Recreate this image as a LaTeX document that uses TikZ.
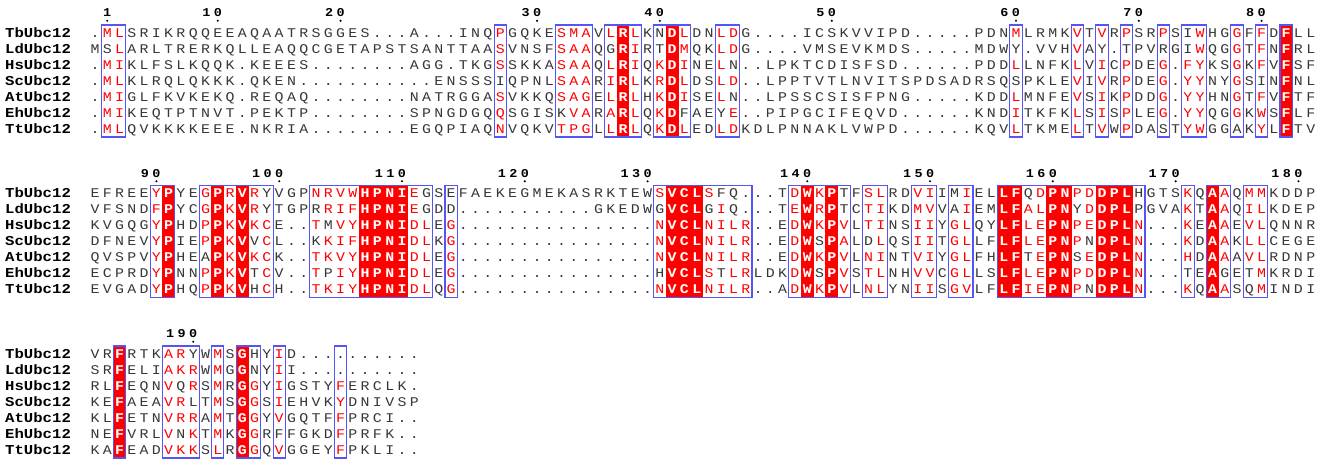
\documentclass[tikz,border=0pt]{standalone}
\usepackage{fontspec}
\newfontfamily\seqfont[FakeStretch=1.12]{Liberation Mono}
\newfontfamily\namefont[FakeStretch=1.15]{Liberation Mono}
\definecolor{boxblue}{RGB}{85,85,245}
\definecolor{resred}{RGB}{255,0,0}
\definecolor{resgray}{RGB}{55,55,55}
\tikzset{
  res/.style={inner sep=0pt, anchor=base, font=\seqfont\fontsize{13.3}{13.3}\selectfont},
  resblack/.style={res, text=resgray},
  resred/.style={res, text=resred},
  resfill/.style={res, text=white, font=\seqfont\bfseries\fontsize{13.3}{13.3}\selectfont},
  seqname/.style={inner sep=0pt, anchor=base west, font=\namefont\bfseries\fontsize{13.6}{13.6}\selectfont},
  numstyle/.style={inner sep=0pt, anchor=base, font=\seqfont\bfseries\fontsize{12}{12}\selectfont},
  boxline/.style={draw=boxblue, line width=1.1pt},
  fillcol/.style={fill=resred},
}
\makeatletter
\newcount\sq@col
\newcommand\seqrow[3]{% #1 block id, #2 baseline y, #3 residues
  \def\sq@blk{#1}\def\sq@y{#2}\global\sq@col=0
  \sq@loop#3\relax}
\def\sq@loop#1{\ifx#1\relax\else\sq@put#1\global\advance\sq@col by 1 \expandafter\sq@loop\fi}
\def\sq@put#1{%
  \pgfmathsetmacro\sq@x{95+12.28*\the\sq@col}%
  \ifcsname FILL\sq@blk-\the\sq@col\endcsname
    \node[resfill] at (\sq@x,\sq@y) {\uppercase{#1}};%
  \else
    \ifnum\lccode`#1=`#1\relax
      \node[resred] at (\sq@x,\sq@y) {\uppercase{#1}};%
    \else
      \node[resblack] at (\sq@x,\sq@y) {#1};%
    \fi
  \fi}
\newcommand\markfill[2]{\expandafter\gdef\csname FILL#1-#2\endcsname{}}
\makeatother
\newcommand\fillcols[3]{% #1 block, #2 y0, #3 list
  \foreach \c in {#3} {
    \markfill{#1}{\c}
    \fill[fillcol] ({95+12.28*\c-6.4},{#2-8}) rectangle ({95+12.28*\c+6.4},{#2+104});
  }}
\newcommand\boxcols[2]{% #1 y0, #2 list a/b
  \foreach \a/\b in {#2} {
    \draw[boxline] ({95+12.28*\a-6.14},{#1-8}) rectangle ({95+12.28*\b+6.14},{#1+104});
  }}
\newcommand\numlab[4]{% #1 y0, #2 col, #3 digits, #4 count
  \foreach \d [count=\i] in {#3} {
    \node[numstyle] at ({95+12.28*#2-11.5*(#4-\i)},{#1-16.3}) {\d};
  }
  \fill[black] ({95+12.28*#2},{#1-12.2}) circle (1.15);
}
\newcommand\names[2]{% #1 y0, #2 prefix
  \node[seqname] (#2Tb) at (5,{#1+4.5}) {TbUbc12};
  \node[seqname] (#2Ld) at (5,{#1+20.5}) {LdUbc12};
  \node[seqname] (#2Hs) at (5,{#1+36.5}) {HsUbc12};
  \node[seqname] (#2Sc) at (5,{#1+52.5}) {ScUbc12};
  \node[seqname] (#2At) at (5,{#1+68.5}) {AtUbc12};
  \node[seqname] (#2Eh) at (5,{#1+84.5}) {EhUbc12};
  \node[seqname] (#2Tt) at (5,{#1+100.5}) {TtUbc12};
}
\begin{document}
\begin{tikzpicture}[x=1pt,y=-1pt]
\useasboundingbox (0,0) rectangle (1326,462);
\fill[white] (0,0) rectangle (1326,462);
% ---------------- block 1 ----------------
\def\yA{33}
\fillcols{A}{\yA}{43,47,97}
\boxcols{\yA}{1/2,33/33,38/40,42/44,46/48,51/52,75/75,80/80,82/82,84/84,87/87,89/90,93/93,95/95,97/97}
\names{\yA}{a}
\numlab{\yA}{1}{1}{1}
\numlab{\yA}{10}{1,0}{2}
\numlab{\yA}{20}{2,0}{2}
\numlab{\yA}{36}{3,0}{2}
\numlab{\yA}{46}{4,0}{2}
\numlab{\yA}{60}{5,0}{2}
\numlab{\yA}{75}{6,0}{2}
\numlab{\yA}{85}{7,0}{2}
\numlab{\yA}{95}{8,0}{2}
\seqrow{A}{37.5}{.mlSRIKRQQEEAQAATRSGGES...A...INQpGQKEsmaVlRlKNDlDNldG....ICSKVVIPD.....PDNmLRMKvTvRpSRpSIwHGgFfDFLL}
\seqrow{A}{53.5}{MSlARLTRERKQLLEAQQCGETAPSTSANTTAAsVNSFsaaQGRiRTDmQKldG....VMSEVKMDS.....MDWY.VVHvAY.TPVRGIwQGgTfNFRL}
\seqrow{A}{69.5}{.miKLFSLKQQK.KEEES........AGG.TKGsSKKAsaaQlRiQkDiNElN..LPKTCDISFSD......PDDlLNFKlViCpDEg.fyKSgKfVFSF}
\seqrow{A}{85.5}{.mlKLRQLQKKK.QKEN...........ENSSSIQPNLsaaRiRlKrDlDSld..LPPTVTLNVITSPDSADRSQSPKLEvIvRpDEg.yyNYgSINFNL}
\seqrow{A}{101.5}{.miGLFKVKEKQ.REQAQ........NATRGGAsVKKQsagElRlHkDiSElN..LPSSCSISFPNG.....KDDlMNFEvSiKpDDg.yyHNgTfVFTF}
\seqrow{A}{117.5}{.miKEQTPTNVT.PEKTP........SPNGDGQqSGISKvaRaRlQkDFAEYe..PIPGCIFEQVD......KNDiTKFKlSiSpLEg.yyQGgKwSFLF}
\seqrow{A}{133.5}{.mlQVKKKKEEE.NKRIA........EGQPIAQnVQKVtpgLlRlQkDlEDldKDLPNNAKLVWPD......KQVlTKMElTvWpDASTywGGAKyLFTV}
% ---------------- block 2 ----------------
\def\yB{193.5}
\fillcols{B}{\yB}{6,10,12,22,23,24,25,47,48,49,58,60,74,75,78,79,82,83,84,91}
\boxcols{\yB}{5/6,9/14,18/27,29/29,46/53,57/61,63/64,67/68,70/71,74/85,89/89,91/92,94/95}
\names{\yB}{b}
\numlab{\yB}{5}{9,0}{2}
\numlab{\yB}{15}{1,0,0}{3}
\numlab{\yB}{25}{1,1,0}{3}
\numlab{\yB}{35}{1,2,0}{3}
\numlab{\yB}{45}{1,3,0}{3}
\numlab{\yB}{58}{1,4,0}{3}
\numlab{\yB}{68}{1,5,0}{3}
\numlab{\yB}{78}{1,6,0}{3}
\numlab{\yB}{88}{1,7,0}{3}
\numlab{\yB}{98}{1,8,0}{3}
\seqrow{B}{198}{EFREEyPYEgPrVrYVGPnrvwHPNIeGSEFAEKEGMEKASRKTEWsVCLsFQ...TdWkPTFslRDviIMiELLFQdPNpdDPLHGTSkQAaQmmKDDP}
\seqrow{B}{214}{VFSNDfPYCgPkVrYTGPRrifHPNIeGDD...........GKEDWGVCLGiQ...TeWrPTCtiKDmvVAiEMLFalPNYdDPLPGVAkTAaQilKDEP}
\seqrow{B}{230}{KVGQGyPHDpPkVkcE..tMvyHPNIdlEg................nVCLnilr..EdWkPvLtiNSiiYglQYLFlePNpeDPLn...kEAaEvlQNNR}
\seqrow{B}{246}{DFNEVyPIEpPkVVcL..KkifHPNIdlKg................nVCLnilr..EdWSPaLDlQSiiTglLFLFlePNpNDPLn...kDAaKllCEGE}
\seqrow{B}{262}{QVSPVyPHEAPkVkcK..tkvyHPNIdlEg................nVCLnilr..EdWkPvLniNTviYglFHLFTePNSeDPLn...hDAaAvlRDNP}
\seqrow{B}{278}{ECPRDyPNNpPkVTcV..tPiyHPNIdlEg................HVCLsTlrLDKdWSPvStlNHvvCglLSLFlePNpdDPLn...TEAGETmKRDI}
\seqrow{B}{294}{EVGADyPHQpPkVHcH..tkiyHPNIdlQg................nVCLnilr..AdWkPvLnlYNiiSgvLFLFiePNpNDPLn...kQAaSQmINDI}
% ---------------- block 3 ----------------
\def\yC{354}
\fillcols{C}{\yC}{2,12}
\boxcols{\yC}{2/2,6/8,10/10,12/13,15/15,20/20}
\names{\yC}{c}
\numlab{\yC}{8}{1,9,0}{3}
\seqrow{C}{358.5}{VRFRTKarYWmSGHYiD..........}
\seqrow{C}{374.5}{SRFELIakrWmGGNYiI..........}
\seqrow{C}{390.5}{RLFEQNvQrSmRGgYiGSTYfERCLK.}
\seqrow{C}{406.5}{KEFAEAvrLTmSGgSiEHVKyDNIVSP}
\seqrow{C}{422.5}{KLFETNvrrAmTGgYvGQTFfPRCI..}
\seqrow{C}{438.5}{NEFVRLvNkTmKGgRFFGKDfPRFK..}
\seqrow{C}{454.5}{KAFEADvkkSlRGgQvGGEYfPKLI..}
\end{tikzpicture}
\end{document}
